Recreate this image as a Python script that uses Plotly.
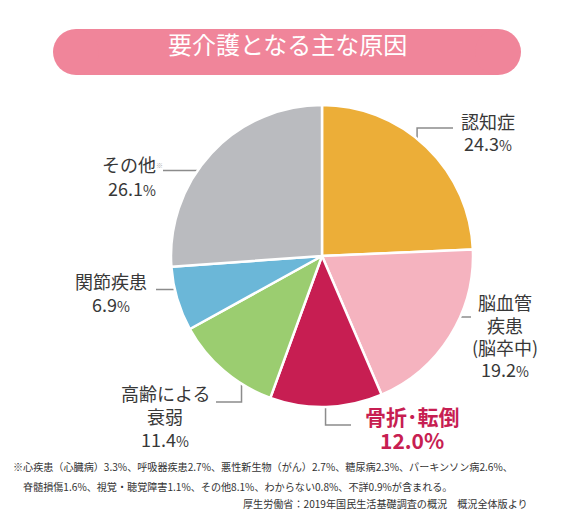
import math
import plotly.graph_objects as go

# data
causes = ['認知症', '脳血管疾患', '骨折・転倒', '高齢による衰弱', '関節疾患', 'その他']
shares = [24.3, 19.2, 12.0, 11.4, 6.9, 26.1]
colors = ['#ECAE38', '#F5B3BF', '#C71E52', '#9BCD70', '#6BB7D8', '#BABBBF']
label_lines = [
    ['認知症'],
    ['脳血管', '疾患', '(脳卒中)'],
    ['骨折･転倒'],
    ['高齢による', '衰弱'],
    ['関節疾患'],
    ['その他<span style="font-size:10px;color:#b0b0b0"><sup>※</sup></span>'],
]
title = '要介護となる主な原因'
note_1 = '※心疾患（心臓病）3.3%、呼吸器疾患2.7%、悪性新生物（がん）2.7%、糖尿病2.3%、パーキンソン病2.6%、'
note_2 = '脊髄損傷1.6%、視覚・聴覚障害1.1%、その他8.1%、わからない0.8%、不詳0.9%が含まれる。'
source = '厚生労働省：2019年国民生活基礎調査の概況　概況全体版より'

W, H = 580, 513
CX, CY, R = 314, 248, 151
FONT = 'Noto Sans CJK JP'
TXT = '#383838'
LINE = '#8c8c8c'
LIFT = 9  # compensates the CJK font's vertical offset

# label layout: text centre x, y of each line, leader radial fraction, leader route
layout_spec = [
    dict(x=480, ys=[122, 144], r=0.91, route=('v', 445, 120)),
    dict(x=497, ys=[303, 326, 348, 370], r=0.76, route=('h', 463)),
    dict(x=404, ys=[417, 441], r=0.83, route=('v', 343, 417), hl=True),
    dict(x=157, ys=[394, 417, 440], r=0.82, route=('v', 208, 394)),
    dict(x=103, ys=[282, 305], r=0.78, route=('h', 148)),
    dict(x=124, ys=[165, 189], r=0.83, route=('h', 155)),
]

fig = go.Figure()

fig.add_trace(go.Pie(
    labels=causes, values=shares, sort=False, direction='clockwise', rotation=0,
    marker=dict(colors=colors, line=dict(color='white', width=2.5)),
    textinfo='none', hoverinfo='label+percent', showlegend=False,
    domain=dict(x=[(CX - R) / W, (CX + R) / W],
                y=[(H - CY - R) / H, (H - CY + R) / H]),
))

total = sum(shares)
cum = 0
annotations = []
for name, val, lines, spec in zip(causes, shares, label_lines, layout_spec):
    mid = math.radians((cum + val / 2) / total * 360)
    cum += val
    sx = CX + spec['r'] * R * math.sin(mid)
    sy = CY - spec['r'] * R * math.cos(mid)
    route = spec['route']
    if route[0] == 'v':
        xs, ys = [sx, sx, route[1]], [sy, route[2], route[2]]
    else:
        xs, ys = [sx, route[1]], [sy, sy]
    fig.add_trace(go.Scatter(x=xs, y=ys, mode='lines', line=dict(color=LINE, width=1.5),
                             hoverinfo='skip', showlegend=False))

    if spec.get('hl'):
        texts = [f'<b>{t}</b>' for t in lines] + [f'<b>{val:.1f}%</b>']
        font = dict(family=FONT, size=21, color='#C71E52')
    else:
        texts = lines + [f'{val:.1f}<span style="font-size:14px">%</span>']
        font = dict(family=FONT, size=18, color=TXT)
    for t, y in zip(texts, spec['ys']):
        annotations.append(dict(x=spec['x'], y=y, xref='x', yref='y', text=t,
                                showarrow=False, font=font, xanchor='center',
                                yanchor='middle', yshift=LIFT))

# title pill
pill = dict(fillcolor='#F0859A', line=dict(width=0), layer='below', xref='x', yref='y')
shapes = [
    dict(type='rect', x0=68, x1=490, y0=21, y1=67, **pill),
    dict(type='circle', x0=45, x1=91, y0=21, y1=67, **pill),
    dict(type='circle', x0=467, x1=513, y0=21, y1=67, **pill),
]
annotations.append(dict(x=279, y=44, xref='x', yref='y', text=title, showarrow=False,
                        yshift=LIFT, font=dict(family=FONT, size=24, color='white')))

# footnotes
note_font = dict(family=FONT, size=10.1, color='#333')
annotations += [
    dict(x=3, y=465, xref='x', yref='y', text=note_1, showarrow=False, xanchor='left',
         yshift=LIFT - 2, font=note_font),
    dict(x=13, y=485, xref='x', yref='y', text=note_2, showarrow=False, xanchor='left',
         yshift=LIFT - 2, font=note_font),
    dict(x=522, y=502, xref='x', yref='y', text=source, showarrow=False, xanchor='right',
         yshift=LIFT - 2, font=note_font),
]

fig.update_layout(
    width=W, height=H, margin=dict(l=0, r=0, t=0, b=0),
    paper_bgcolor='white', plot_bgcolor='rgba(0,0,0,0)',
    xaxis=dict(range=[0, W], visible=False, fixedrange=True),
    yaxis=dict(range=[H, 0], visible=False, fixedrange=True),
    shapes=shapes, annotations=annotations, showlegend=False,
)

fig.write_html('out.html')
